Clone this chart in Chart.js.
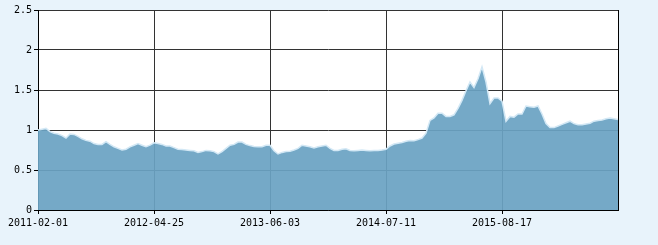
<!DOCTYPE html>
<html>
<head>
<meta charset="utf-8">
<script src="https://cdn.jsdelivr.net/npm/chart.js@4/dist/chart.umd.min.js"></script>
<style>
    html, body {
        margin: 0;
        padding: 0;
        background: #e8f3fb;
    }
    canvas {
        display: block;
    }
</style>
</head>
<body>
<canvas id="navChart" width="658" height="245"></canvas>
<script>
// x tick labels, one every labelStep points
const tickLabels = [
    "2011-02-01",
    "2012-04-25",
    "2013-06-03",
    "2014-07-11",
    "2015-08-17"
];
const labelStep = 29;

// value, one per 4px of plot width
const navValues = [
    1.00, 1.01, 1.02, 0.98, 0.96, 0.95, 0.93, 0.90, 0.95, 0.945,
    0.92, 0.89, 0.87, 0.86, 0.83, 0.82, 0.82, 0.855, 0.82, 0.79,
    0.77, 0.75, 0.76, 0.79, 0.81, 0.83, 0.81, 0.79, 0.81, 0.84,
    0.83, 0.82, 0.80, 0.80, 0.78, 0.76, 0.755, 0.75, 0.745, 0.74,
    0.72, 0.73, 0.745, 0.74, 0.73, 0.70, 0.73, 0.77, 0.81, 0.82,
    0.85, 0.85, 0.82, 0.805, 0.795, 0.79, 0.79, 0.81, 0.81, 0.74,
    0.70, 0.72, 0.73, 0.735, 0.75, 0.77, 0.81, 0.80, 0.79, 0.775,
    0.79, 0.80, 0.81, 0.77, 0.745, 0.745, 0.76, 0.765, 0.745, 0.74,
    0.745, 0.75, 0.745, 0.74, 0.745, 0.745, 0.75, 0.76, 0.80, 0.825,
    0.835, 0.845, 0.86, 0.87, 0.865, 0.88, 0.90, 0.96, 1.12, 1.15,
    1.21, 1.21, 1.17, 1.17, 1.19, 1.27, 1.37, 1.49, 1.60, 1.53,
    1.64, 1.79, 1.60, 1.33, 1.40, 1.40, 1.36, 1.11, 1.17, 1.16,
    1.20, 1.20, 1.30, 1.29, 1.285, 1.30, 1.20, 1.08, 1.03, 1.03,
    1.05, 1.07, 1.09, 1.11, 1.08, 1.065, 1.065, 1.075, 1.085, 1.11,
    1.12, 1.125, 1.14, 1.15, 1.14, 1.13
];

const yMax = 2.5;
const yStep = 0.5;

const tickFont = {
    family: "'DejaVu Sans Mono', monospace",
    size: 10
};

// white plot area behind everything, black frame on the right
const plotFrame = {
    id: "plotFrame",
    beforeDraw(chart) {
        const { ctx, chartArea } = chart;
        ctx.save();
        ctx.fillStyle = "#ffffff";
        ctx.fillRect(
            chartArea.left,
            chartArea.top,
            chartArea.right - chartArea.left,
            chartArea.bottom - chartArea.top
        );
        ctx.restore();
    },
    afterDraw(chart) {
        const { ctx, chartArea } = chart;
        ctx.save();
        ctx.strokeStyle = "#000000";
        ctx.lineWidth = 1;
        ctx.beginPath();
        ctx.moveTo(chartArea.right + 0.5, chartArea.top);
        ctx.lineTo(chartArea.right + 0.5, chartArea.bottom);
        ctx.stroke();
        ctx.restore();
    }
};

new Chart(document.getElementById("navChart"), {
    type: "line",
    data: {
        datasets: [
            {
                data: navValues.map((v, i) => ({ x: i, y: v })),
                borderColor: "#d3e8f5",
                borderWidth: 1.5,
                backgroundColor: "rgba(107, 163, 195, 0.93)",
                fill: "origin",
                pointRadius: 0,
                tension: 0
            }
        ]
    },
    options: {
        responsive: false,
        animation: false,
        layout: {
            padding: { top: 10, right: 40, left: 0, bottom: 0 }
        },
        plugins: {
            legend: { display: false },
            tooltip: { enabled: false }
        },
        scales: {
            x: {
                type: "linear",
                min: 0,
                max: navValues.length - 1,
                afterBuildTicks(scale) {
                    scale.ticks = tickLabels.map((t, i) => ({
                        value: i * labelStep
                    }));
                },
                afterFit(scale) {
                    scale.height = 35;
                },
                ticks: {
                    color: "#000000",
                    font: tickFont,
                    padding: 3,
                    maxRotation: 0,
                    autoSkip: false,
                    callback: (value) =>
                        tickLabels[Math.round(value / labelStep)] || ""
                },
                grid: {
                    color: "#333333",
                    tickColor: "#000000",
                    tickLength: 4
                },
                border: {
                    color: "#000000"
                }
            },
            y: {
                min: 0,
                max: yMax,
                afterFit(scale) {
                    scale.width = 38;
                },
                ticks: {
                    stepSize: yStep,
                    color: "#000000",
                    font: tickFont,
                    padding: 2,
                    callback: (value) => String(value)
                },
                grid: {
                    color: "#333333",
                    tickColor: "#000000",
                    tickLength: 4
                },
                border: {
                    color: "#000000"
                }
            }
        }
    },
    plugins: [plotFrame]
});
</script>
</body>
</html>
